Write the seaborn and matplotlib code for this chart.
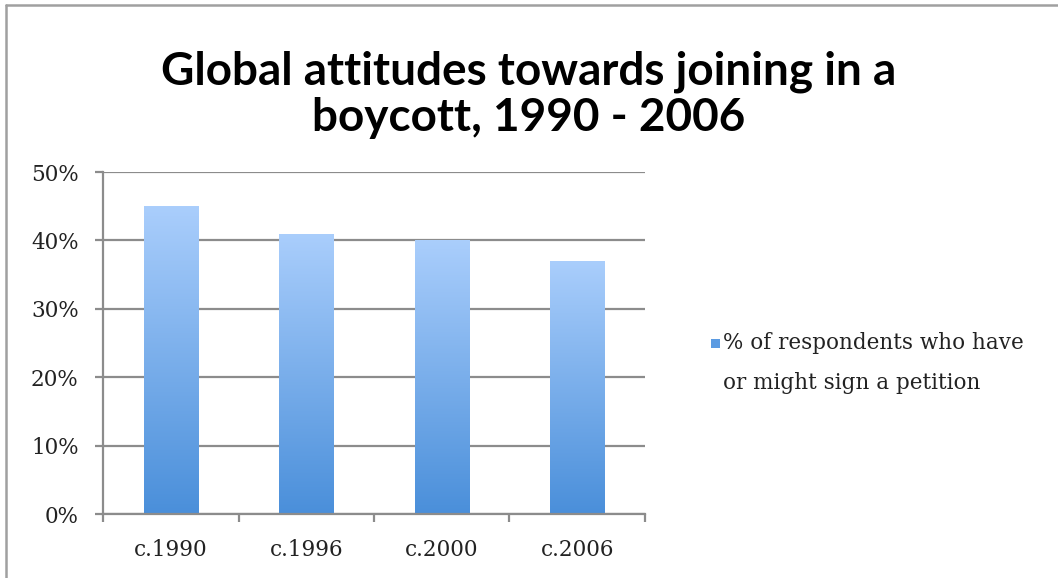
import numpy as np
import pandas as pd
import matplotlib
matplotlib.use('Agg')
import matplotlib.pyplot as plt
import seaborn as sns
from matplotlib.colors import LinearSegmentedColormap
from matplotlib.patches import Rectangle
from matplotlib.lines import Line2D
from matplotlib.ticker import PercentFormatter, FixedLocator

# data
periods = ['c.1990', 'c.1996', 'c.2000', 'c.2006']
share = [0.45, 0.41, 0.40, 0.37]
series_label = '% of respondents who have\nor might sign a petition'
title = 'Global attitudes towards joining in a\nboycott, 1990 - 2006'

df = pd.DataFrame({'period': periods, 'share': share})

sns.set_style('white')
serif = ['DejaVu Serif']

fig = plt.figure(figsize=(10.58, 5.78), dpi=100)
ax = fig.add_axes([0.0974, 0.1107, 0.5122, 0.5917])

sns.barplot(data=df, x='period', y='share', color='#6fa8ea', width=0.4, ax=ax, zorder=3)

# vertical gradient fill on each bar (light at top, darker at the base)
grad_cmap = LinearSegmentedColormap.from_list('bar_grad', ['#4a8fda', '#aacefc'])
gradient = np.linspace(0, 1, 256).reshape(-1, 1)
for bar in ax.patches:
    x0, y0 = bar.get_x(), bar.get_y()
    w, h = bar.get_width(), bar.get_height()
    im = ax.imshow(gradient, cmap=grad_cmap, aspect='auto', origin='lower',
                   extent=[x0, x0 + w, y0, y0 + h], zorder=3)
    im.set_clip_path(bar)
    bar.set_facecolor('none')
    bar.set_edgecolor('none')

ax.set_xlim(-0.5, 3.5)
ax.set_ylim(0, 0.5)
ax.set_yticks(np.arange(0, 0.51, 0.1))
ax.yaxis.set_major_formatter(PercentFormatter(1.0, decimals=0))
ax.set_xlabel('')
ax.set_ylabel('')

grid_c = '#8c8c8c'
ax.grid(axis='y', color=grid_c, linewidth=1.6, zorder=1)
ax.set_axisbelow(True)
for side in ['top', 'right']:
    ax.spines[side].set_visible(False)
for side in ['left', 'bottom']:
    ax.spines[side].set_color(grid_c)
    ax.spines[side].set_linewidth(1.6)
    ax.spines[side].set_zorder(4)

# category separators on the x axis
ax.xaxis.set_minor_locator(FixedLocator(np.arange(-0.5, 4, 1.0)))
ax.tick_params(axis='x', which='minor', length=6, width=1.6, color=grid_c, direction='out', bottom=True)
ax.tick_params(axis='x', which='major', length=0, pad=18, labelsize=15.5, labelcolor='#222222')
ax.tick_params(axis='y', which='major', length=5.5, width=1.6, color=grid_c, direction='out', left=True,
               pad=12, labelsize=15.5, labelcolor='#222222')
for lbl in ax.get_xticklabels() + ax.get_yticklabels():
    lbl.set_family(serif)

fig.text(0.5, 1 - 95 / 578, title, ha='center', va='center', fontsize=33, fontweight='bold',
         family=['Lato', 'DejaVu Sans'], color='black', linespacing=1.12)

# legend: marker next to the first line of the label
fig.patches.append(Rectangle((711 / 1058, 1 - 348 / 578), 9 / 1058, 9 / 578,
                             transform=fig.transFigure, facecolor='#5b9be2', edgecolor='none'))
fig.text(723 / 1058, 1 - 332 / 578, series_label, ha='left', va='top', fontsize=15.5,
         family=serif, color='#222222', linespacing=2.05)

# outer frame (top and left edges visible)
fig.add_artist(Line2D([6 / 1058, 1.0], [1 - 5 / 578, 1 - 5 / 578], transform=fig.transFigure,
                      color='#a0a0a0', linewidth=1.8))
fig.add_artist(Line2D([6 / 1058, 6 / 1058], [0.0, 1 - 5 / 578], transform=fig.transFigure,
                      color='#a0a0a0', linewidth=1.8))

fig.savefig('out.png', dpi=100)
